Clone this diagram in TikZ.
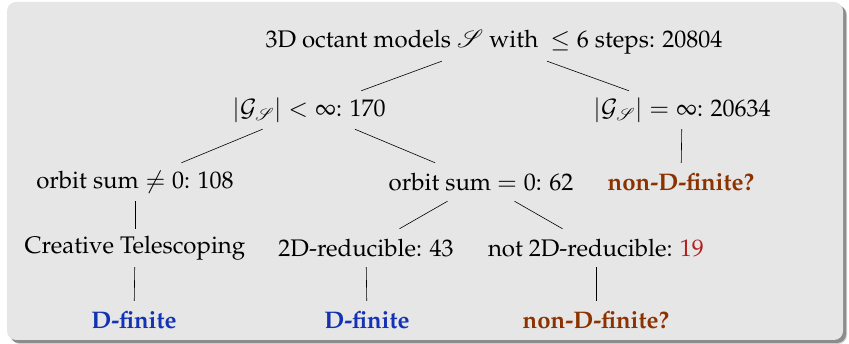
\documentclass[tikz,border=0pt]{standalone}
\usepackage[T1]{fontenc}
\usepackage{mathpazo}
\usepackage{mathrsfs}
\definecolor{boxgray}{RGB}{230,230,230}
\definecolor{dblue}{RGB}{20,50,180}
\definecolor{dbrown}{RGB}{140,50,0}
\definecolor{dred}{RGB}{180,30,30}
\begin{document}
\begin{tikzpicture}[x=1pt,y=1pt,
  lbl/.style={minimum height=38pt,inner xsep=2pt,font=\fontsize{24}{28}\selectfont},
  good/.style={lbl,text=dblue,font=\fontsize{24}{28}\selectfont\bfseries},
  open/.style={lbl,text=dbrown,font=\fontsize{24}{28}\selectfont\bfseries},
  link/.style={draw=black,line width=0.6pt}]
\useasboundingbox (0,0) rectangle (849,344);
\fill[black!20] (11,0) [rounded corners=9pt] rectangle (847,338);
\fill[black!45] (10,1) [rounded corners=9pt] rectangle (846,339);
\fill[boxgray] (7,4) [rounded corners=9pt] rectangle (843,342);
\node[lbl] (root) at (494,302) {3D octant models $\mathscr{S}$ with \ $\leq 6$ steps: 20804};
\node[lbl] (g1) at (309,234) {$|\mathcal{G}_{\mathscr{S}}| < \infty$: 170};
\node[lbl] (g2) at (682,234) {$|\mathcal{G}_{\mathscr{S}}| = \infty$: 20634};
\node[lbl] (o1) at (135,162) {orbit sum $\neq 0$: 108};
\node[lbl] (o2) at (481,162) {orbit sum $= 0$: 62};
\node[open] (nd1) at (681,162) {non-D-finite?};
\node[lbl] (ct) at (135,96) {Creative Telescoping};
\node[lbl] (r2) at (366,96) {2D-reducible: 43};
\node[lbl] (nr2) at (596,96) {not 2D-reducible: \textcolor{dred}{19}};
\node[good] (df1) at (134,24) {D-finite};
\node[good] (df2) at (367,24) {D-finite};
\node[open] (nd2) at (596,24) {non-D-finite?};
\draw[link] (root) -- (g1);
\draw[link] (root) -- (g2);
\draw[link] (g1) -- (o1);
\draw[link] (g1) -- (o2);
\draw[link] (g2) -- (nd1);
\draw[link] (o1) -- (ct);
\draw[link] (ct) -- (df1);
\draw[link] (o2) -- (r2);
\draw[link] (o2) -- (nr2);
\draw[link] (r2) -- (df2);
\draw[link] (nr2) -- (nd2);
\end{tikzpicture}
\end{document}
